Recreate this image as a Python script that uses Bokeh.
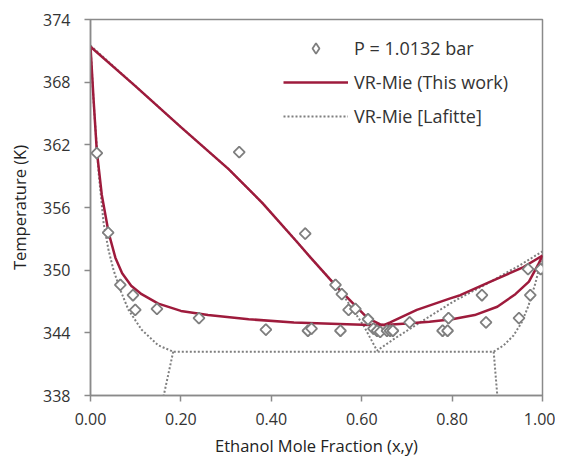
import math
from bokeh.plotting import figure
from bokeh.models import Range1d, FixedTicker, PrintfTickFormatter, Legend, LegendItem
from bokeh.embed import file_html
from bokeh.resources import INLINE

# Experimental data, P = 1.0132 bar
exp_x = [0.014, 0.039, 0.066, 0.094, 0.099, 0.147, 0.240, 0.388, 0.481, 0.489, 0.553,
         0.329, 0.475, 0.542, 0.556, 0.571, 0.586, 0.614, 0.626, 0.634, 0.641,
         0.656, 0.663, 0.669, 0.706, 0.779, 0.790, 0.792, 0.866, 0.875, 0.948,
         0.973, 0.968, 0.996]
exp_T = [361.2, 353.6, 348.6, 347.6, 346.2, 346.3, 345.4, 344.3, 344.2, 344.4, 344.2,
         361.3, 353.5, 348.6, 347.7, 346.2, 346.3, 345.3, 344.4, 344.2, 344.1,
         344.2, 344.2, 344.2, 345.0, 344.2, 344.2, 345.4, 347.6, 345.0, 345.4,
         347.6, 350.1, 350.1]

# VR-Mie (This work): bubble and dew curves
tw_bub_x = [0, 0.007, 0.014, 0.025, 0.04, 0.055, 0.07, 0.09, 0.113, 0.15, 0.2, 0.26,
            0.35, 0.45, 0.55, 0.62, 0.65, 0.7, 0.75, 0.8, 0.85, 0.9, 0.94, 0.97, 0.99, 1.0]
tw_bub_T = [371.4, 366.2, 361.4, 357.2, 353.6, 351.2, 349.7, 348.5, 347.7, 346.8, 346.1, 345.7,
            345.3, 345.0, 344.85, 344.75, 344.75, 344.9, 345.05, 345.3, 345.7, 346.5, 347.7,
            348.9, 350.5, 351.4]
tw_dew_x = [0, 0.1, 0.2, 0.305, 0.381, 0.457, 0.487, 0.545, 0.613, 0.641, 0.65, 0.663,
            0.722, 0.796, 0.818, 0.885, 0.958, 1.0]
tw_dew_T = [371.4, 367.6, 363.7, 359.7, 356.4, 352.7, 351.2, 348.4, 345.4, 344.8, 344.75, 345.0,
            346.2, 347.3, 347.6, 348.9, 350.3, 351.4]

# VR-Mie [Lafitte]
lf_dew_x = [0, 0.1, 0.2, 0.305, 0.381, 0.457, 0.487, 0.545, 0.567, 0.604, 0.634, 0.671,
            0.722, 0.803, 0.877, 0.951, 1.0]
lf_dew_T = [371.5, 367.6, 363.7, 359.7, 356.4, 352.7, 351.2, 348.4, 347.1, 344.7, 342.3, 343.4,
            344.8, 347.0, 348.7, 350.5, 351.8]
lf_bub_x = [0, 0.007, 0.018, 0.029, 0.04, 0.051, 0.066, 0.084, 0.113, 0.150, 0.183,
            0.892, 0.914, 0.936, 0.954, 0.969, 0.984, 1.0]
lf_bub_T = [371.5, 366.0, 359.3, 354.5, 351.9, 350.0, 348.1, 346.2, 344.3, 342.8, 342.2,
            342.2, 342.8, 343.75, 345.0, 346.6, 348.7, 351.5]
lf_lle_left_x = [0.183, 0.162]
lf_lle_left_T = [342.2, 338.0]
lf_lle_right_x = [0.892, 0.900]
lf_lle_right_T = [342.2, 338.0]

y_ticks = [338, 344, 350, 356, 362, 368, 374]
x_ticks = [0.0, 0.2, 0.4, 0.6, 0.8, 1.0]

FONT = "Open Sans"
TXT = "#333333"
AX = "#8a8a8a"
RED = "#9E1B3C"
GRAY = "#7f7f7f"

p = figure(width=555, height=459, output_backend="svg", toolbar_location=None,
           x_range=Range1d(0, 1), y_range=Range1d(338, 374),
           min_border_left=90, min_border_right=13, min_border_top=19, min_border_bottom=64)
p.xgrid.visible = False
p.ygrid.visible = False
p.outline_line_color = AX
p.outline_line_width = 1.5

r_lf_dew = p.line(lf_dew_x, lf_dew_T, line_color=GRAY, line_width=2, line_dash="2 2")
r_lf_bub = p.line(lf_bub_x, lf_bub_T, line_color=GRAY, line_width=2, line_dash="2 2")
p.line(lf_lle_left_x, lf_lle_left_T, line_color=GRAY, line_width=2, line_dash="2 2")
p.line(lf_lle_right_x, lf_lle_right_T, line_color=GRAY, line_width=2, line_dash="2 2")
r_tw_bub = p.line(tw_bub_x, tw_bub_T, line_color=RED, line_width=2.5)
r_tw_dew = p.line(tw_dew_x, tw_dew_T, line_color=RED, line_width=2.5)
# legend glyph (hidden beneath the rotated-square markers; legend ignores marker angle)
r_exp_leg = p.scatter(exp_x, exp_T, marker="diamond", size=10.5,
                      fill_color="white", line_color=GRAY, line_width=1.8)
r_exp = p.scatter(exp_x, exp_T, marker="square", angle=math.pi / 4, size=7.8,
                  fill_color="white", line_color=GRAY, line_width=1.8)

for ax in (p.xaxis[0], p.yaxis[0]):
    ax.axis_line_color = AX
    ax.axis_line_width = 1.5
    ax.major_tick_line_color = AX
    ax.major_tick_line_width = 1.5
    ax.major_tick_in = 0
    ax.major_tick_out = 6
    ax.minor_tick_line_color = None
    ax.major_label_text_font = FONT
    ax.major_label_text_font_size = "16px"
    ax.major_label_text_color = TXT
    ax.axis_label_text_font = FONT
    ax.axis_label_text_font_size = "16.5px"
    ax.axis_label_text_font_style = "normal"
    ax.axis_label_text_color = "#222222"

p.xaxis.ticker = FixedTicker(ticks=x_ticks)
p.xaxis.formatter = PrintfTickFormatter(format="%.2f")
p.yaxis.ticker = FixedTicker(ticks=y_ticks)
p.xaxis.axis_label = "Ethanol Mole Fraction (x,y)"
p.yaxis.axis_label = "Temperature (K)"
p.xaxis.major_label_standoff = 11
p.yaxis.major_label_standoff = 14
p.xaxis.axis_label_standoff = 6
p.yaxis.axis_label_standoff = 9

legend = Legend(items=[
    LegendItem(label="P = 1.0132 bar", renderers=[r_exp_leg]),
    LegendItem(label="VR-Mie (This work)", renderers=[r_tw_bub]),
    LegendItem(label="VR-Mie [Lafitte]", renderers=[r_lf_dew]),
], location=(193, 266))
legend.border_line_color = None
legend.background_fill_alpha = 0
legend.glyph_width = 65
legend.glyph_height = 26
legend.label_height = 20
legend.spacing = 8
legend.label_standoff = 6
legend.label_text_font = FONT
legend.label_text_font_size = "18px"
legend.label_text_color = TXT
p.add_layout(legend)

open("out.html", "w").write(file_html(p, INLINE))
